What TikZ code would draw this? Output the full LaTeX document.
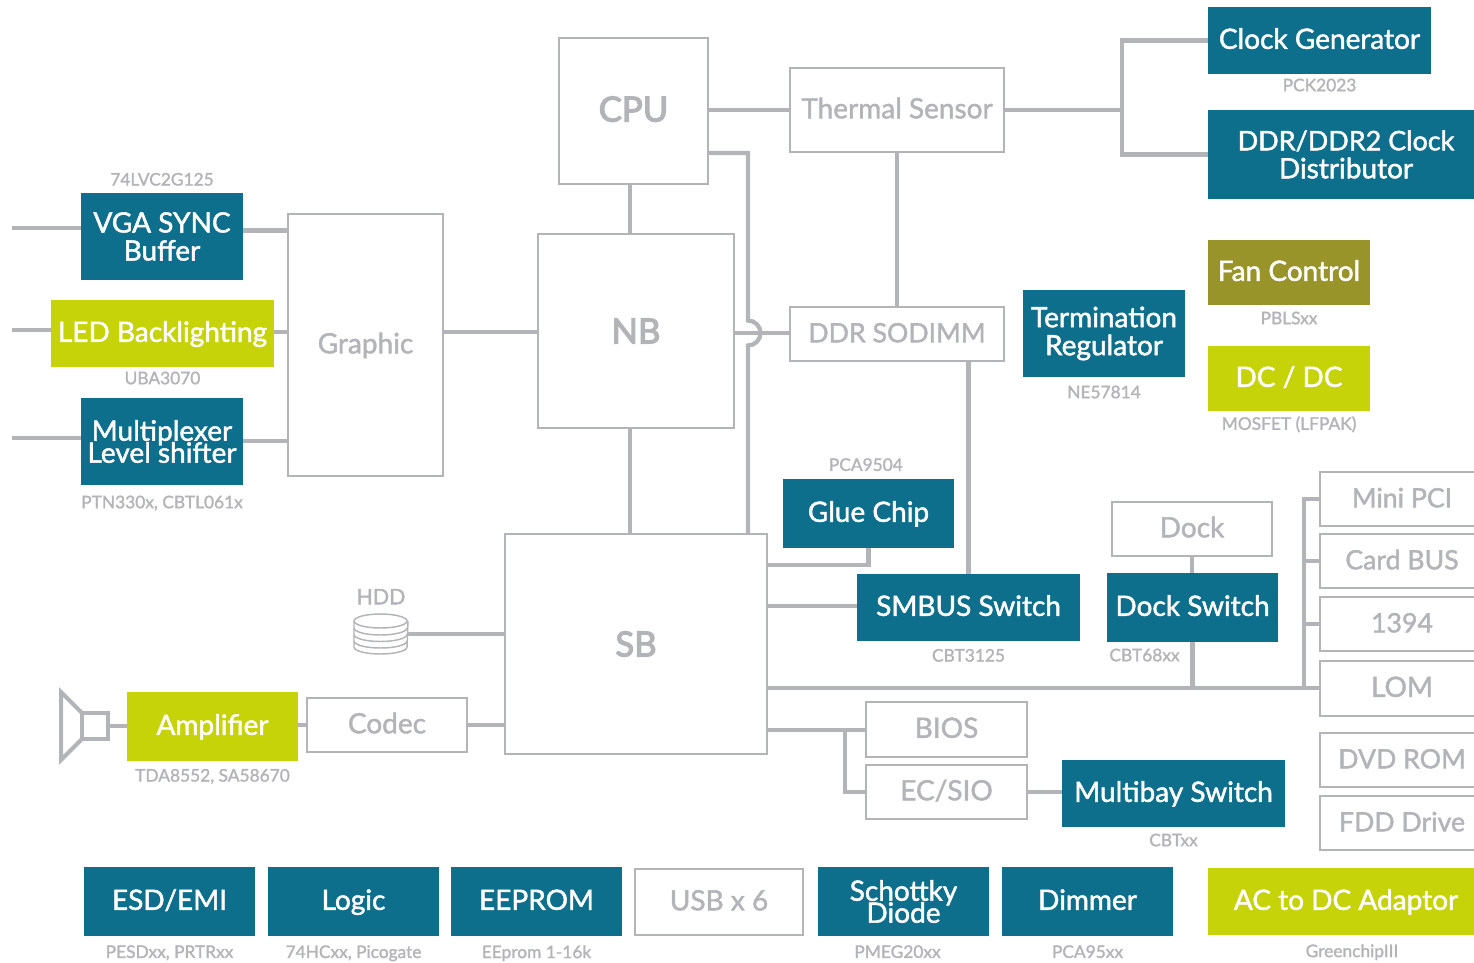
\documentclass[tikz,border=0pt]{standalone}
\usepackage{xcolor}
\usepackage{fontspec}
\setmainfont{Lato}[FakeBold=1.6]
\newfontfamily\heavyfont{Lato}[FakeBold=3.5]
\usetikzlibrary{positioning}

\definecolor{tealbox}{HTML}{0E6F8C}
\definecolor{limebox}{HTML}{C6D309}
\definecolor{olivebox}{HTML}{98942A}
\definecolor{wiregray}{HTML}{B3B4B8}

\tikzset{
    boxsize/.style 2 args={minimum width=#1*0.75pt, minimum height=#2*0.75pt},
    oneline/.style={text height=15.5pt, text depth=3pt},
    anybox/.style={rectangle, outer sep=0pt, inner sep=0pt, align=center, font=\fontsize{21}{21}\selectfont},
    bigbox/.style={anybox, draw=wiregray, line width=2pt, text=wiregray, font=\heavyfont\fontsize{26}{26}\selectfont},
    plainbox/.style={anybox, oneline, draw=wiregray, line width=2pt, text=wiregray},
    capsbox/.style={plainbox, font=\fontsize{20}{20}\selectfont},
    tealpair/.style={anybox, fill=tealbox, text=white},
    tealnode/.style={tealpair, oneline},
    limenode/.style={anybox, oneline, fill=limebox, text=white},
    olivenode/.style={anybox, oneline, fill=olivebox, text=white},
    partno/.style={inner sep=0pt, outer sep=0pt, text=wiregray, font=\fontsize{13}{13}\selectfont},
    wire/.style={draw=wiregray, line width=3.2pt},
    thinwire/.style={draw=wiregray, line width=1.1pt}
}

\begin{document}
\begin{tikzpicture}[x=0.75pt, y=-0.75pt]
    \useasboundingbox (0,0) rectangle (1474,963);

    % Nodes
    \node (cpu) [bigbox, text depth=3pt, boxsize={149}{146}] at (633.5,111) {CPU};
    \node (nb) [bigbox, boxsize={196}{194}] at (636,331) {NB};
    \node (sb) [bigbox, boxsize={262}{220}] at (636,644) {SB};
    \node (graphic) [plainbox, boxsize={155}{262}] at (365.5,345) {Graphic};
    \node (thermal) [plainbox, boxsize={214}{84}] at (897,110) {Thermal Sensor};
    \node (sodimm) [capsbox, boxsize={214}{54}] at (897,334) {DDR SODIMM};
    \node (dock) [plainbox, boxsize={160}{54}] at (1192,529) {Dock};
    \node (minipci) [capsbox, boxsize={164}{54}] at (1402,499) {Mini PCI};
    \node (cardbus) [capsbox, boxsize={164}{54}] at (1402,561) {Card BUS};
    \node (firewire) [capsbox, boxsize={164}{54}] at (1402,624) {1394};
    \node (lom) [plainbox, boxsize={164}{55}] at (1402,688.5) {LOM};
    \node (dvdrom) [capsbox, boxsize={164}{54}] at (1402,760) {DVD ROM};
    \node (fdd) [capsbox, boxsize={164}{54}] at (1402,823) {FDD Drive};
    \node (bios) [plainbox, boxsize={161}{55}] at (946.5,729.5) {BIOS};
    \node (ecsio) [plainbox, boxsize={161}{54}] at (946.5,792) {EC/SIO};
    \node (codec) [plainbox, boxsize={160}{54}] at (387,725) {Codec};
    \node (usb) [plainbox, boxsize={168}{66}] at (719,902) {USB x 6};

    \node (clockgen) [tealnode, boxsize={223}{67}] at (1319.5,40.5) {Clock Generator};
    \node (ddrclock) [tealpair, boxsize={276}{89}] at (1346,154.5) {{\fontsize{20.2}{21}\selectfont DDR/DDR2 Clock}\\Distributor};
    \node (vga) [tealpair, boxsize={162}{87}] at (162,236.5) {VGA SYNC\\Buffer};
    \node (mux) [tealpair, boxsize={162}{87}] at (162,441.5) {Multiplexer\\[-4.5pt]Level shifter};
    \node (term) [tealpair, boxsize={162}{87}] at (1104,333.5) {Termination\\Regulator};
    \node (glue) [tealnode, boxsize={171}{69}] at (868.5,513.5) {Glue Chip};
    \node (smbus) [tealnode, boxsize={223}{67}] at (968.5,607.5) {SMBUS Switch};
    \node (dockswitch) [tealnode, boxsize={171}{69}] at (1192.5,607.5) {Dock Switch};
    \node (multibay) [tealnode, boxsize={223}{67}] at (1173.5,793.5) {Multibay Switch};
    \node (esd) [tealnode, boxsize={171}{69}] at (169.5,901.5) {ESD/EMI};
    \node (logic) [tealnode, boxsize={171}{69}] at (353.5,901.5) {Logic};
    \node (eeprom) [tealnode, boxsize={171}{69}] at (536.5,901.5) {EEPROM};
    \node (schottky) [tealpair, boxsize={171}{69}] at (903.5,901.5) {Schottky\\[-4.5pt]Diode};
    \node (dimmer) [tealnode, boxsize={171}{69}] at (1087.5,901.5) {Dimmer};

    \node (led) [limenode, boxsize={223}{67}] at (162.5,333.5) {LED Backlighting};
    \node (dcdc) [limenode, boxsize={162}{65}] at (1289,378.5) {DC / DC};
    \node (amp) [limenode, boxsize={171}{69}] at (212.5,726.5) {Amplifier};
    \node (acdc) [limenode, boxsize={276}{67}] at (1346,901.5) {AC to DC Adaptor};
    \node (fan) [olivenode, boxsize={162}{65}] at (1289,272.5) {Fan Control};

    % Part numbers
    \node (clockgennote) [partno, below=3.5pt of clockgen] {PCK2023};
    \node (vganote) [partno, above=5.5pt of vga] {74LVC2G125};
    \node (lednote) [partno, below=3.5pt of led] {UBA3070};
    \node (muxnote) [partno, below=8pt of mux] {PTN330x, CBTL061x};
    \node (fannote) [partno, below=5pt of fan] {PBLSxx};
    \node (dcdcnote) [partno, below=4pt of dcdc] {MOSFET (LFPAK)};
    \node (termnote) [partno, below=6.5pt of term] {NE57814};
    \node (gluenote) [partno, above=6pt of glue, xshift=-2pt] {PCA9504};
    \node (smbusnote) [partno, below=6pt of smbus] {CBT3125};
    \node (docknote) [partno, below=5pt of dockswitch, xshift=-36pt] {CBT68xx};
    \node (multibaynote) [partno, below=5pt of multibay] {CBTxx};
    \node (ampnote) [partno, below=6pt of amp] {TDA8552, SA58670};
    \node (esdnote) [partno, below=7pt of esd] {PESDxx, PRTRxx};
    \node (logicnote) [partno, below=7pt of logic] {74HCxx, Picogate};
    \node (eepromnote) [partno, below=7pt of eeprom] {EEprom 1-16k};
    \node (schottkynote) [partno, below=7pt of schottky, xshift=-4.5pt] {PMEG20xx};
    \node (dimmernote) [partno, below=7pt of dimmer] {PCA95xx};
    \node (acdcnote) [partno, below=7pt of acdc, xshift=4.5pt] {GreenchipIII};

    % HDD and speaker
    \node (hdd) [rectangle, outer sep=0pt, inner sep=0pt, boxsize={54}{42}] at (381,634) {};
    \node (hddlabel) [partno, above=6.5pt of hdd, font=\fontsize{16}{16}\selectfont] {HDD};
    \draw[thinwire] (hdd.west |- 0,621) arc[start angle=180, end angle=540, x radius=26.5, y radius=7];
    \draw[thinwire] (hdd.west |- 0,621) -- (hdd.west |- 0,647) arc[start angle=180, end angle=0, x radius=26.5, y radius=7] -- (hdd.east |- 0,621);
    \draw[thinwire] (hdd.west |- 0,628) arc[start angle=180, end angle=0, x radius=26.5, y radius=7];
    \draw[thinwire] (hdd.west |- 0,634.5) arc[start angle=180, end angle=0, x radius=26.5, y radius=7];
    \draw[thinwire] (hdd.west |- 0,641) arc[start angle=180, end angle=0, x radius=26.5, y radius=7];
    \node (spkbox) [rectangle, draw=wiregray, line width=3pt, outer sep=0pt, boxsize={26}{26}] at (95,726) {};
    \draw[draw=wiregray, line width=3pt, miter limit=6] (spkbox.north west) -- (61,692) -- (61,760) -- (spkbox.south west);

    % Edges
    \coordinate (vgain) at (12,228);
    \coordinate (ledin) at (12,330);
    \coordinate (muxin) at (12,438);
    \coordinate (tempbus) at (1122,110);
    \coordinate (biosbus) at (845,730);
    \coordinate (slotbus) at (1304,688);
    \coordinate (hop) at (748,333);

    \draw[wire] (vgain) -- (vgain -| vga.west);
    \draw[wire] (ledin) -- (ledin -| led.west);
    \draw[wire] (muxin) -- (muxin -| mux.west);
    \draw[wire] (vga.east |- 0,230.5) -- (graphic.west |- 0,230.5);
    \draw[wire] (led.east |- 0,332) -- (graphic.west |- 0,332);
    \draw[wire] (mux.east |- 0,441) -- (graphic.west |- 0,441);
    \draw[wire] (graphic.east |- 0,332) -- (nb.west |- 0,332);
    \draw[wire] (nb.east |- hop) -- (sodimm.west |- hop);
    \draw[wire] (cpu.east |- thermal) -- (thermal.west);
    \draw[wire] (thermal.east) -- (tempbus);
    \draw[wire] (clockgen.west) -| (tempbus) |- (ddrclock.west);
    \draw[wire] (630,184) -- (630,234);
    \draw[wire] (630,428) -- (630,534);
    \draw[wire] (cpu.east |- 0,153) -| (748,320.5) arc[start angle=-90, end angle=90, radius=12.5] -- (748,534);
    \draw[wire] (thermal.south) -- (sodimm.north);
    \draw[wire] (smbus.north) -- (smbus.north |- sodimm.south);
    \draw[wire] (glue.south) |- (sb.east |- 0,565);
    \draw[wire] (sb.east |- 0,606) -- (smbus.west |- 0,606);
    \draw[wire] (hdd.east) -- (sb.west |- hdd);
    \draw[wire] (spkbox.east) -- (amp.west |- spkbox);
    \draw[wire] (amp.east |- codec) -- (codec.west);
    \draw[wire] (codec.east) -- (sb.west |- codec);
    \draw[wire] (dock.south) -- (dock.south |- dockswitch.north);
    \draw[wire] (dockswitch.south) -- (dockswitch.south |- slotbus);
    \draw[wire] (sb.east |- slotbus) -- (lom.west |- slotbus);
    \draw[wire] (slotbus) |- (minipci.west);
    \draw[wire] (slotbus |- cardbus) -- (cardbus.west);
    \draw[wire] (slotbus |- firewire) -- (firewire.west);
    \draw[wire] (sb.east |- biosbus) -- (bios.west |- biosbus);
    \draw[wire] (biosbus) |- (ecsio.west);
    \draw[wire] (ecsio.east) -- (multibay.west |- ecsio);
\end{tikzpicture}
\end{document}
